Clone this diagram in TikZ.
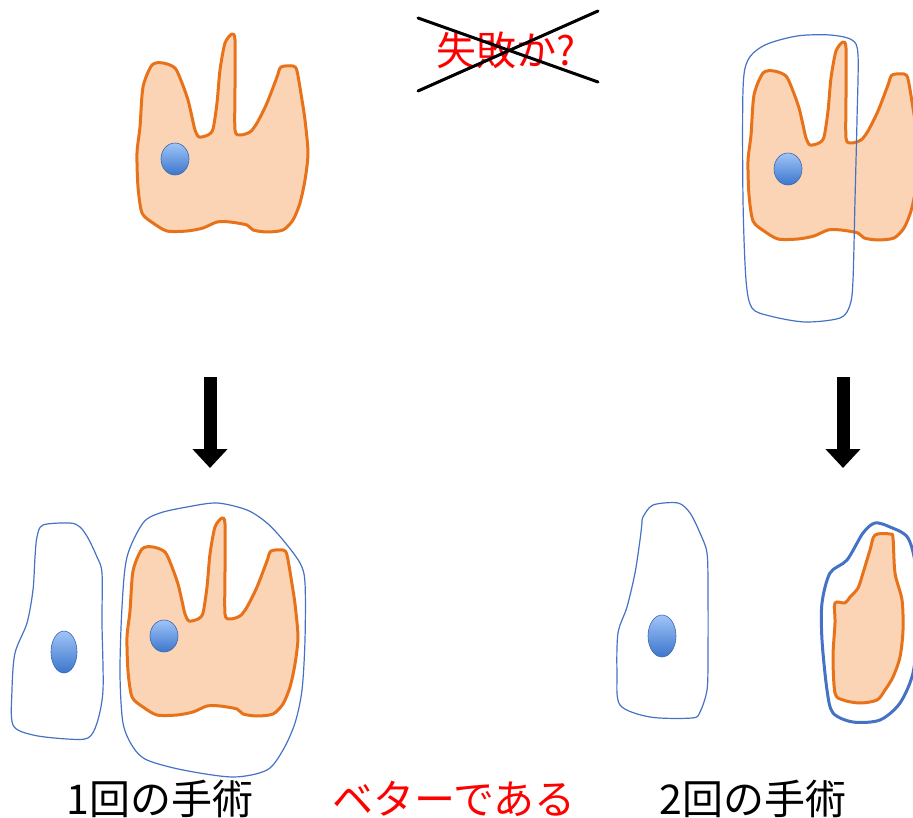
\documentclass[tikz,border=0pt]{standalone}
\usepackage{fontspec}
\setmainfont{Noto Sans CJK JP}
\usepackage{tikz}
\usetikzlibrary{arrows.meta}
\definecolor{TOrange}{RGB}{232,114,26}
\definecolor{TFill}{RGB}{250,212,180}
\definecolor{CBlue}{RGB}{68,114,196}
\definecolor{BallTop}{RGB}{160,196,248}
\definecolor{BallBot}{RGB}{60,118,204}
\definecolor{TRed}{RGB}{255,0,0}

\tikzset{
  tooth/.style={draw=TOrange, line width=3pt, fill=TFill, line join=round},
  cell/.style={draw=CBlue, line width=1.2pt, line join=round},
  thickcell/.style={draw=CBlue, line width=3pt, line join=round},
  ball/.style={draw=CBlue!90!black, line width=0.6pt, top color=BallTop, bottom color=BallBot},
  downarrow/.style={line width=13pt, -{Triangle[width=34pt,length=19pt]}},
  strike/.style={line width=3pt, line cap=round},
  caption/.style={font=\fontsize{41}{42}\selectfont, inner sep=0pt}
}

% outline of the tooth, used three times with a shift
\newcommand{\toothshape}{plot[smooth cycle, tension=0.45] coordinates {
  (140,127) (143,87) (152,65) (163,63) (175,68) (182,83) (188,100) (192,117)
  (195,130) (199,137) (208,135) (213,129) (217,103) (220,70) (225,43) (232,34)
  (235,40) (235,87) (235,130) (240,135) (250,132) (257,123) (267,103) (277,77)
  (281,67) (293,66) (297,71) (302,100) (305,120) (308,153) (305,180) (300,203)
  (293,220) (283,230) (267,232) (253,230) (247,225) (230,222) (217,222) (203,228)
  (187,231) (167,231) (153,223) (142,213) (138,187) (137,153)}}

\begin{document}
\begin{tikzpicture}[x=1pt, y=-1pt]
  \useasboundingbox (0,0) rectangle (913,818);
  \clip (0,0) rectangle (913,818);

  % top left: tooth before surgery
  \draw[tooth] \toothshape;
  \draw[ball] (175,159) ellipse [x radius=14, y radius=16];

  % top right: tooth with the planned cut
  \begin{scope}[shift={(611,8)}]
    \draw[tooth] \toothshape;
  \end{scope}
  \draw[ball] (788,169) ellipse [x radius=14, y radius=16];
  \draw[cell] plot[smooth cycle, tension=0.5] coordinates {
    (743,90) (748,60) (765,45) (797,36) (830,35) (852,40) (858,55) (857,120)
    (855,200) (853,280) (850,305) (840,318) (805,322) (770,316) (752,308)
    (746,280) (743,200)};

  \node[caption, font=\fontsize{40}{40}\selectfont, text=TRed] (fail) at (506,50) {失敗か?};
  \coordinate (x1) at (418,18);
  \coordinate (x2) at (598,82);
  \coordinate (x3) at (418,91);
  \coordinate (x4) at (598,11);
  \draw[strike] (x1) -- (x2);
  \draw[strike] (x3) -- (x4);

  % arrows
  \coordinate (a1) at (210,377);
  \coordinate (a2) at (210,468);
  \coordinate (b1) at (843,377);
  \coordinate (b2) at (843,468);
  \draw[downarrow] (a1) -- (a2);
  \draw[downarrow] (b1) -- (b2);

  % bottom left: one operation
  \draw[cell] plot[smooth cycle, tension=0.5] coordinates {
    (37,537) (43,525) (70,523) (80,527) (88,538) (97,557) (102,573) (102,623)
    (103,690) (97,723) (88,738) (67,739) (33,735) (13,725) (12,690) (15,653)
    (27,623) (33,590) (35,557)};
  \draw[ball] (64,652) ellipse [x radius=13, y radius=21];
  \begin{scope}[shift={(-10,484)}]
    \draw[tooth] \toothshape;
  \end{scope}
  \draw[ball] (164,636) ellipse [x radius=14, y radius=16];
  \draw[cell] plot[smooth cycle, tension=0.5] coordinates {
    (127,557) (143,523) (160,513) (187,507) (217,503) (247,510) (267,523)
    (283,540) (300,563) (305,583) (305,640) (302,690) (295,723) (283,750)
    (267,770) (233,777) (183,770) (147,760) (133,747) (123,723) (120,673)
    (122,607)};

  % bottom right: two operations
  \draw[cell] plot[smooth cycle, tension=0.5] coordinates {
    (643,517) (653,505) (678,503) (690,513) (700,533) (707,553) (708,590)
    (708,657) (707,690) (700,712) (692,718) (650,717) (620,705) (617,673)
    (618,633) (627,607) (635,573) (640,540) (642,523)};
  \draw[ball] (662,636) ellipse [x radius=14, y radius=21];
  \draw[thickcell] plot[smooth cycle, tension=0.5] coordinates {
    (822,603) (830,573) (847,560) (863,533) (875,523) (890,527) (908,538)
    (916,570) (917,630) (913,673) (900,703) (880,720) (853,722) (833,713)
    (827,690) (822,640)};
  \draw[tooth] plot[smooth cycle, tension=0.5] coordinates {
    (835,603) (845,603) (850,597) (858,588) (863,573) (870,550) (875,535)
    (890,534) (893,538) (895,573) (902,600) (903,630) (900,657) (893,677)
    (885,690) (877,700) (860,703) (843,700) (835,693) (833,657) (835,623)};

  % captions
  \node[caption] (one) at (160,799) {1回の手術};
  \node[caption, text=TRed] (better) at (454,799) {ベターである};
  \node[caption] (two) at (753,799) {2回の手術};
\end{tikzpicture}
\end{document}
